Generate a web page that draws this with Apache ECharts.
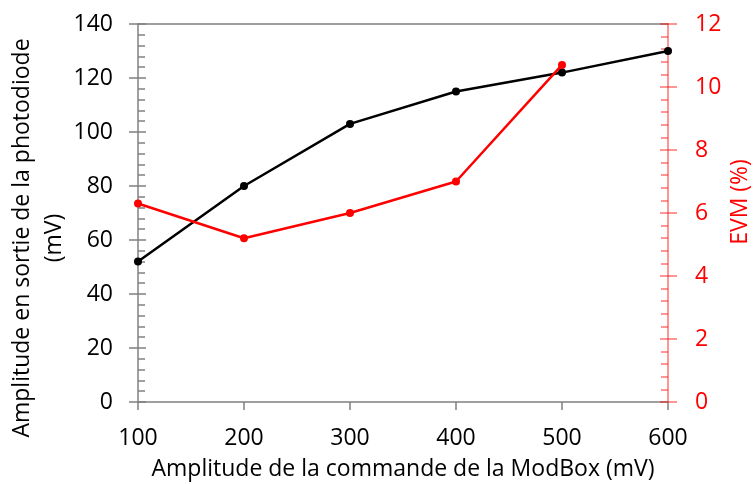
<!DOCTYPE html>
<html>
<head>
<meta charset="utf-8">
<script src="https://cdn.jsdelivr.net/npm/echarts@6/dist/echarts.min.js"></script>
<style>
html,body{margin:0;padding:0;background:#fff;}
#chart{width:756px;height:484px;}
</style>
</head>
<body>
<div id="chart"></div>
<script>
// Data
var xValues = [100, 200, 300, 400, 500, 600];
var amplitude = [52, 80, 103, 115, 122, 130];
var evmX = [100, 200, 300, 400, 500];
var evm = [6.3, 5.2, 6.0, 7.0, 10.7];

var xTitle = 'Amplitude de la commande de la ModBox (mV)';
var yTitle = 'Amplitude en sortie de la photodiode\n(mV)';
var y2Title = 'EVM (%)';

var FONT = 'Open Sans';
var FS = 23;
var GRAY = '#808080';
var RED = '#ff0000';
var RED_AXIS = 'rgba(255,0,0,0.55)';

var chart = echarts.init(document.getElementById('chart'), null, {renderer: 'canvas'});

function pairs(xs, ys) { return xs.map(function (x, i) { return [x, ys[i]]; }); }

var option = {
  animation: false,
  backgroundColor: '#ffffff',
  grid: {left: 138, right: 88, top: 24, bottom: 82, containLabel: false, outerBoundsMode: 'none'},
  xAxis: [
    {
      type: 'value', min: 100, max: 600, interval: 100, position: 'bottom',
      axisLine: {show: true, lineStyle: {color: GRAY, width: 1.5}},
      axisTick: {show: true, inside: false, length: 8, lineStyle: {color: GRAY, width: 1.5}},
      axisLabel: {show: true, margin: 25, color: '#000', fontFamily: FONT, fontSize: FS},
      splitLine: {show: false},
      name: xTitle, nameLocation: 'middle', nameGap: 56,
      nameTextStyle: {color: '#000', fontFamily: FONT, fontSize: FS}
    },
    {
      type: 'value', min: 100, max: 600, interval: 100, position: 'top',
      axisLine: {show: true, onZero: false, lineStyle: {color: GRAY, width: 1.5}},
      axisTick: {show: false}, axisLabel: {show: false}, splitLine: {show: false}
    }
  ],
  yAxis: [
    {
      type: 'value', min: 0, max: 140, interval: 20, position: 'left',
      axisLine: {show: true, onZero: false, lineStyle: {color: GRAY, width: 1.5}},
      axisTick: {show: true, inside: false, length: 9, lineStyle: {color: GRAY, width: 1.5}},
      axisLabel: {show: true, margin: 25, color: '#000', fontFamily: FONT, fontSize: FS},
      splitLine: {show: false}
    },
    {
      type: 'value', min: 0, max: 140, interval: 20, position: 'left',
      axisLine: {show: false},
      axisTick: {show: true, inside: true, length: 8, lineStyle: {color: GRAY, width: 1.5}},
      minorTick: {show: true, splitNumber: 5, length: 7, lineStyle: {color: GRAY, width: 1.5}},
      axisLabel: {show: false}, splitLine: {show: false}
    },
    {
      type: 'value', min: 0, max: 12, interval: 2, position: 'right',
      axisLine: {show: true, onZero: false, lineStyle: {color: RED_AXIS, width: 1.5}},
      axisTick: {show: true, inside: false, length: 9, lineStyle: {color: RED_AXIS, width: 1.5}},
      axisLabel: {show: true, margin: 27, color: RED, fontFamily: FONT, fontSize: FS, align: 'left'},
      splitLine: {show: false}
    },
    {
      type: 'value', min: 0, max: 12, interval: 2, position: 'right',
      axisLine: {show: false},
      axisTick: {show: true, inside: true, length: 8, lineStyle: {color: RED_AXIS, width: 1.5}},
      minorTick: {show: true, splitNumber: 5, length: 7, lineStyle: {color: RED_AXIS, width: 1.5}},
      axisLabel: {show: false}, splitLine: {show: false}
    }
  ],
  graphic: [
    {
      type: 'text', rotation: Math.PI / 2, x: 38, y: 238,
      style: {text: yTitle, fill: '#000', font: FS + 'px "Open Sans"', align: 'center', verticalAlign: 'middle', lineHeight: 32}
    },
    {
      type: 'text', rotation: Math.PI / 2, x: 740, y: 202,
      style: {text: y2Title, fill: RED, font: FS + 'px "Open Sans"', align: 'center', verticalAlign: 'middle'}
    }
  ],
  series: [
    {
      type: 'line', xAxisIndex: 0, yAxisIndex: 0, data: pairs(xValues, amplitude),
      symbol: 'circle', symbolSize: 8,
      lineStyle: {color: '#000', width: 2.5}, itemStyle: {color: '#000'}, z: 3
    },
    {
      type: 'line', xAxisIndex: 0, yAxisIndex: 2, data: pairs(evmX, evm),
      symbol: 'circle', symbolSize: 8,
      lineStyle: {color: RED, width: 2.5}, itemStyle: {color: RED}, z: 4
    }
  ]
};
chart.setOption(option);
</script>
</body>
</html>
